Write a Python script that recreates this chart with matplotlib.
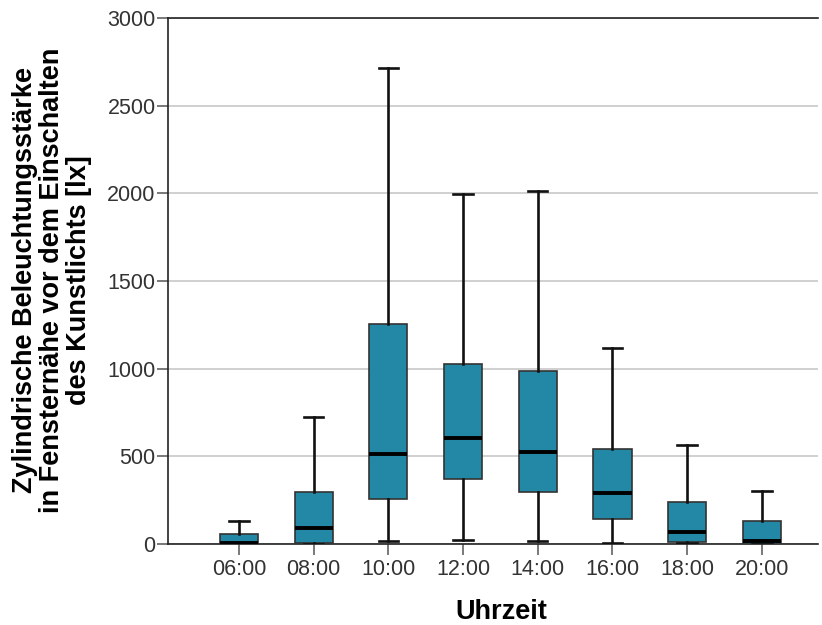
import matplotlib
matplotlib.use("Agg")
import matplotlib.pyplot as plt

plt.rcParams['font.family'] = ['Liberation Sans', 'DejaVu Sans']

times = ["06:00", "08:00", "10:00", "12:00", "14:00", "16:00", "18:00", "20:00"]
whisker_low = [0, 0, 15, 21, 17, 6, 5, 0]
q1 = [0, 4, 255, 373, 295, 143, 10, 0]
median = [3, 90, 513, 607, 523, 293, 71, 17]
q3 = [57, 296, 1253, 1028, 985, 544, 238, 131]
whisker_high = [130, 724, 2714, 1994, 2013, 1116, 567, 302]

box_color = "#2388a6"

fig = plt.figure(figsize=(8.22, 6.25), dpi=100)
ax = fig.add_axes([0.2044, 0.1296, 0.7906, 0.8416])

stats = []
for i, t in enumerate(times):
    stats.append(dict(label=t, whislo=whisker_low[i], q1=q1[i], med=median[i],
                      q3=q3[i], whishi=whisker_high[i], fliers=[]))

positions = list(range(1, len(times) + 1))
ax.bxp(stats, positions=positions, widths=0.51, patch_artist=True,
       showfliers=False, capwidths=0.26,
       boxprops=dict(facecolor=box_color, edgecolor="#333333", linewidth=1.2),
       medianprops=dict(color="black", linewidth=2.8),
       whiskerprops=dict(color="#111111", linewidth=1.9),
       capprops=dict(color="#111111", linewidth=1.9), zorder=3)

ax.set_xlim(0.05, 8.75)
ax.set_ylim(0, 3000)
ax.set_yticks(range(0, 3001, 500))
ax.yaxis.grid(True, color="#c8c8c8", linewidth=1.2, zorder=0)
ax.set_axisbelow(True)

for side in ["left", "bottom", "top"]:
    ax.spines[side].set_color("#222222")
    ax.spines[side].set_linewidth(1.2)
ax.spines["right"].set_visible(False)

ax.tick_params(axis="both", direction="out", length=8, width=1.1, color="#555555",
               labelsize=15.5, labelcolor="#333333")
ax.tick_params(axis="x", pad=3)
ax.tick_params(axis="y", pad=1)

fig.text(501 / 822, 1 - 612 / 625, "Uhrzeit", fontsize=19.5, fontweight="bold",
         ha="center", va="center")
fig.text(52 / 822, 1 - 280 / 625,
         "Zylindrische Beleuchtungsstärke\nin Fensternähe vor dem Einschalten\ndes Kunstlichts [lx]",
         fontsize=19.5, fontweight="bold", rotation=90, ha="center", va="center",
         multialignment="center", linespacing=1.05)

fig.savefig("out.png", dpi=100)
